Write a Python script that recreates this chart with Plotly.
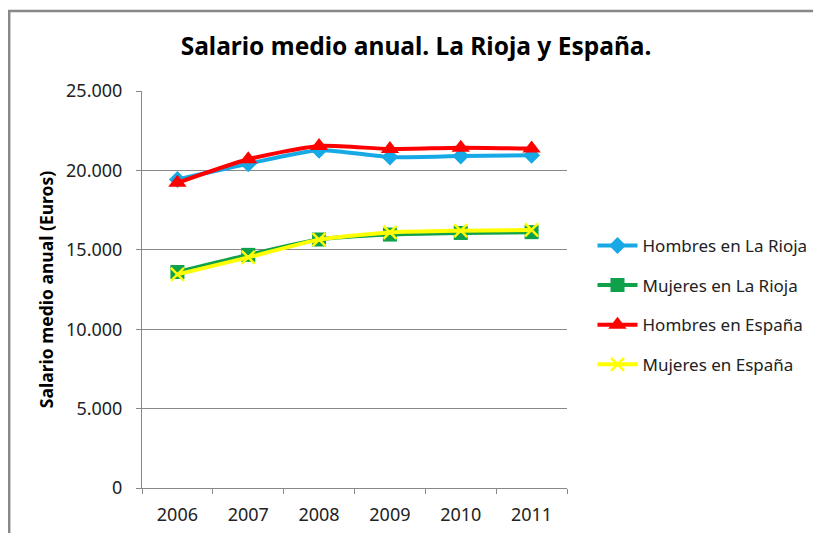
import plotly.graph_objects as go

years = ["2006", "2007", "2008", "2009", "2010", "2011"]
hombres_rioja = [19430, 20420, 21270, 20840, 20900, 20950]
mujeres_rioja = [13600, 14680, 15650, 15960, 16060, 16110]
hombres_espana = [19220, 20700, 21540, 21350, 21430, 21380]
mujeres_espana = [13450, 14520, 15640, 16090, 16200, 16250]
y_ticks = [0, 5000, 10000, 15000, 20000, 25000]

FONT = "Noto Sans"
fig = go.Figure()

fig.add_trace(go.Scatter(x=years, y=hombres_rioja, name="Hombres en La Rioja",
    mode="lines+markers", line=dict(color="#16A9E6", width=4, shape="spline", smoothing=0.6),
    marker=dict(symbol="diamond", size=13, color="#16A9E6"), legendgroup="a"))
fig.add_trace(go.Scatter(x=years, y=mujeres_rioja, name="Mujeres en La Rioja",
    mode="lines+markers", line=dict(color="#0FA04A", width=4, shape="spline", smoothing=0.6),
    marker=dict(symbol="square", size=14, color="#0FA04A"), legendgroup="b"))
fig.add_trace(go.Scatter(x=years, y=hombres_espana, name="Hombres en España",
    mode="lines+markers", line=dict(color="#FF0000", width=4, shape="spline", smoothing=0.6),
    marker=dict(symbol="triangle-up", size=16, color="#FF0000"), legendgroup="c"))
fig.add_trace(go.Scatter(x=years, y=mujeres_espana, name="Mujeres en España",
    mode="lines+markers", line=dict(color="#FFFF00", width=4, shape="spline", smoothing=0.6),
    marker=dict(symbol="x-thin", size=13, color="#FFFF00", line=dict(color="#FFFF00", width=2.5)),
    legendgroup="d"))

fig.update_layout(
    width=821, height=533,
    margin=dict(l=134, r=262, t=83, b=53),
    paper_bgcolor="white", plot_bgcolor="white",
    separators=",.",
    font=dict(family=FONT, color="#222222"),
    title=dict(text="<b>Salario medio anual. La Rioja y España.</b>", x=0.497, xanchor="center",
               y=0.927, yanchor="middle", font=dict(size=24.5, family=FONT, color="black")),
    xaxis=dict(type="category", range=[-0.5, 5.5], showgrid=False, showline=True,
               linecolor="#888888", linewidth=1, ticks="outside", tickson="boundaries",
               ticklen=5, tickcolor="#888888", tickfont=dict(size=18, color="#222222"),
               ticklabelstandoff=10),
    yaxis=dict(range=[0, 25000], tickvals=y_ticks, tickformat=",d", showgrid=True,
               gridcolor="#888888", gridwidth=1, showline=True, linecolor="#888888",
               ticks="outside", ticklen=5, tickcolor="#888888", zeroline=False,
               tickfont=dict(size=18, color="#222222"), ticklabelstandoff=10,
               title=dict(text="<b>Salario medio anual (Euros)</b>", font=dict(size=17.5, color="black"),
                          standoff=7)),
    legend=dict(x=1.06, xanchor="left", y=0.655, yanchor="top", traceorder="grouped",
                tracegroupgap=14.5, itemwidth=40, font=dict(size=17, color="#222222"),
                bgcolor="rgba(0,0,0,0)"),
    shapes=[dict(type="rect", xref="paper", yref="paper", x0=-0.3125, x1=2.0, y0=-0.5, y1=1.2015,
                 line=dict(color="#888888", width=2.5), layer="above")],
)

fig.write_html("out.html")
